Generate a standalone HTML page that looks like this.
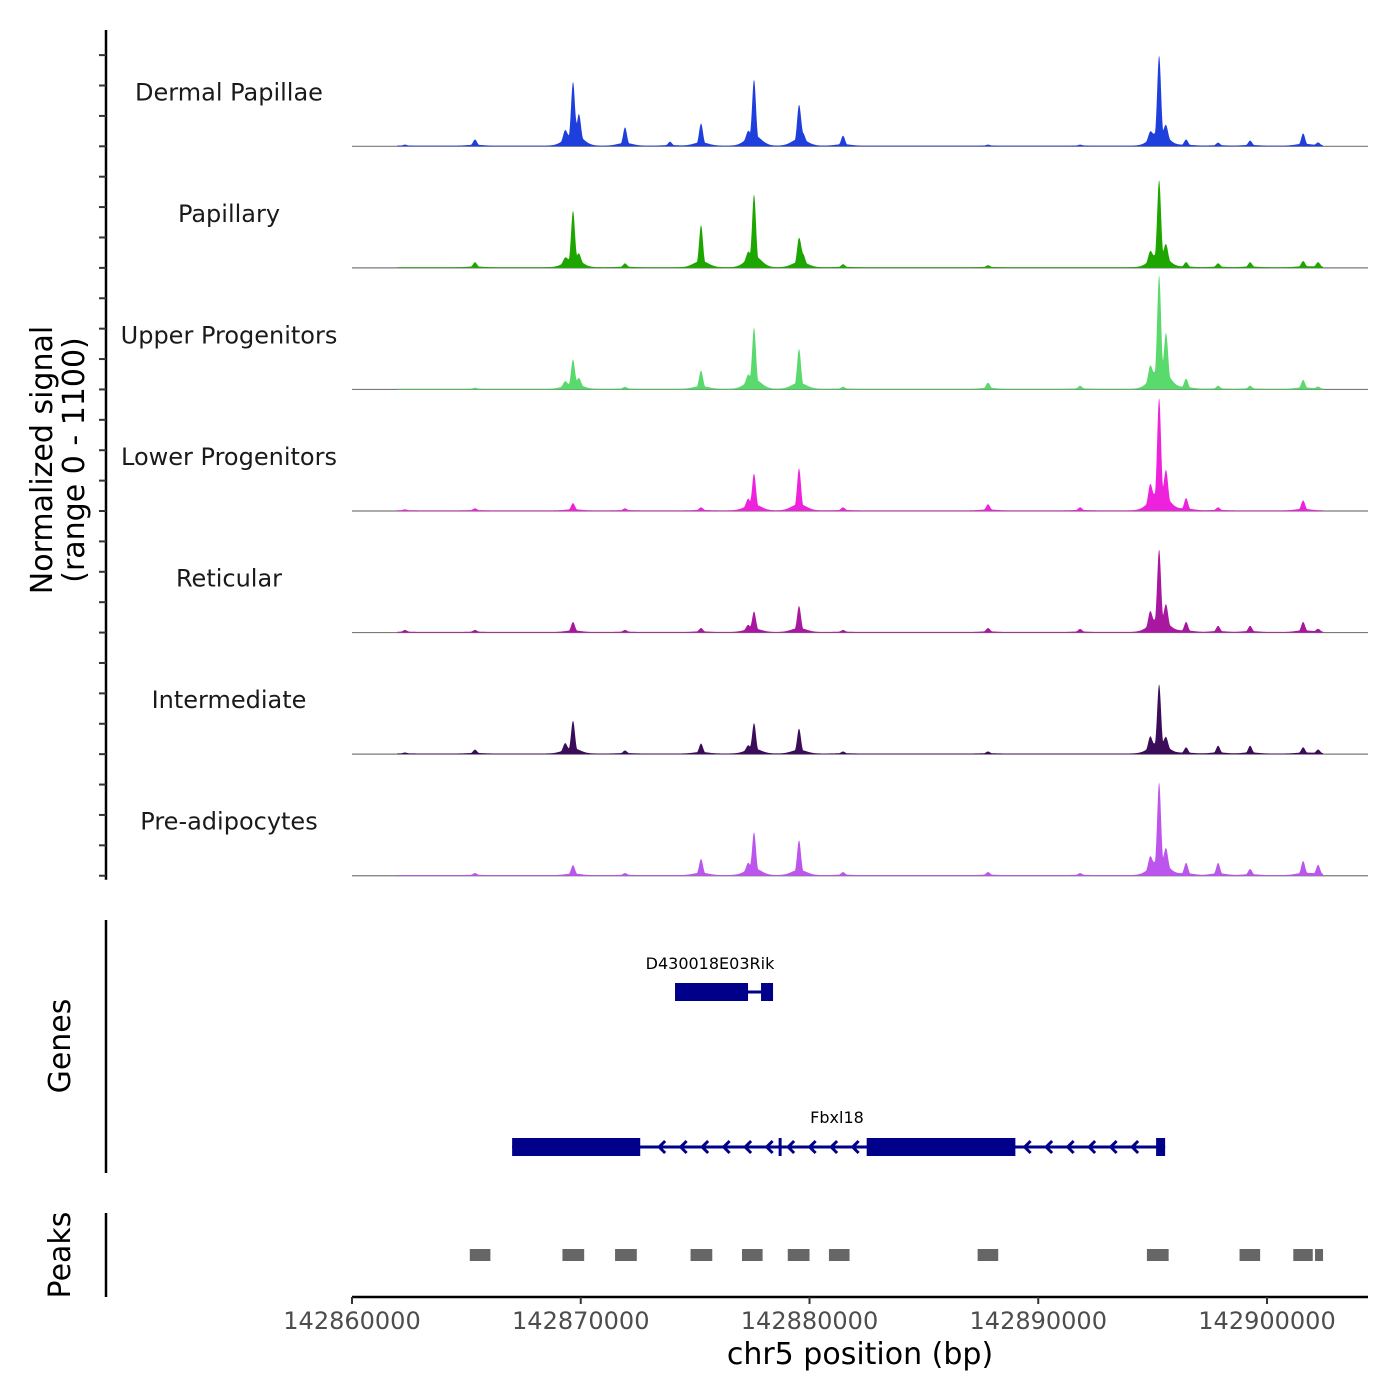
<!DOCTYPE html>
<html><head><meta charset="utf-8"><style>
html,body{margin:0;padding:0;background:#fff}
svg{display:block;font-family:"DejaVu Sans","Liberation Sans",sans-serif}
</style></head><body>
<svg id="chart" width="1400" height="1400" viewBox="0 0 1400 1400" xmlns="http://www.w3.org/2000/svg"></svg>
<script>
// ---- data ----
const xStart = 142860000;
const xTicks = [142860000, 142870000, 142880000, 142890000, 142900000];
const trackNames = ["Dermal Papillae","Papillary","Upper Progenitors","Lower Progenitors","Reticular","Intermediate","Pre-adipocytes"];
const trackColors = ["#1f3fdc","#1ea600","#5ad96c","#ee22dd","#a8179f","#3b0c5a","#bb55ee"];
const peakPos = [142862317,142865377,142869312,142869662,142869924,142871935,142873902,142875258,142877313,142877575,142879542,142879717,142881467,142887806,142891829,142894890,142895283,142895590,142896464,142897863,142899262,142901580,142902236];
const dermalVals       = [9,55,90,545,225,165,35,200,70,590,360,70,90,9,9,70,800,110,55,27,45,110,27];
const papillaryVals    = [0,45,45,500,70,35,0,380,70,650,255,90,27,18,0,90,770,135,45,35,45,55,45];
const upperVals        = [0,9,45,255,70,18,0,165,70,545,360,0,18,55,27,135,980,410,90,27,27,80,18];
const lowerVals        = [9,18,0,65,0,18,0,27,70,325,380,0,27,55,27,165,980,270,110,27,0,90,0];
const reticularVals    = [18,18,0,90,0,18,0,35,45,180,235,0,18,35,27,135,720,180,90,55,55,90,27];
const intermediateVals = [9,35,70,290,0,27,0,90,45,270,225,0,18,18,0,110,610,90,55,70,70,55,35];
const preadipVals      = [0,18,0,90,0,18,0,145,70,380,315,0,27,27,18,110,815,165,110,110,55,125,90];
const trackVals = [dermalVals,papillaryVals,upperVals,lowerVals,reticularVals,intermediateVals,preadipVals];
const signalStart = 142862000, signalEnd = 142902450;
const yMax = 1100;
const peakRegions = [[142865150,142866050],[142869200,142870150],[142871500,142872450],[142874800,142875750],[142877050,142877950],[142879050,142880000],[142880850,142881750],[142887350,142888250],[142894750,142895700],[142898800,142899700],[142901150,142902000],[142902100,142902450]];
const rikExons = [[142874121,142877313],[142877881,142878406]];
const rikSpan = [142874121,142878406];
const fbxExons = [[142867000,142872600],[142878650,142878750],[142882500,142889000],[142895152,142895546]];
const fbxSpan = [142867000,142895546];

// ---- layout ----
const svg = document.getElementById('chart');
const NS = 'http://www.w3.org/2000/svg';
const X0 = 352, X1 = 1267;
const xs = v => X0 + (v - xStart) / (xTicks[4] - xStart) * (X1 - X0);
const trackH = 121.57, firstBase = 146.3;
function mk(tag, attrs, parent){ const e=document.createElementNS(NS,tag); for(const k in attrs) e.setAttribute(k,attrs[k]); (parent||svg).appendChild(e); return e; }

trackNames.forEach((name,i)=>{
  const base = firstBase + i*trackH;
  const ys = v => base - v / yMax * trackH;
  const g = mk('g',{});
  
  
  mk('line',{x1:X0,x2:1368,y1:base,y2:base,stroke:'#7a7a7a','stroke-width':1.2},g);
  const vals = trackVals[i];
  let d = 'M' + xs(signalStart) + ',' + base;
  for(let px = Math.floor(xs(signalStart)); px <= xs(signalEnd); px+=0.5){
    const bp = xStart + (px - X0)/(X1-X0)*(xTicks[4]-xStart);
    let v = 6;
    for(let k=0;k<peakPos.length;k++){
      const dx = (bp - peakPos[k]);
      const a = vals[k]*Math.exp(-(dx*dx)/(2*85*85));
      const b = vals[k]*0.15*Math.exp(-(dx*dx)/(2*320*320));
      v += Math.max(a,b);
    }
    d += ' L' + px + ',' + ys(v).toFixed(2);
  }
  d += ' L' + xs(signalEnd) + ',' + base + ' Z';
  const p = mk('path',{d:d,fill:trackColors[i]},g);
  
  
  const t = mk('text',{x:229,y:base-46,'text-anchor':'middle','font-size':24,fill:'#1a1a1a'},g);
  t.textContent = name;
  
  
});

const yax = mk('g',{});


mk('line',{x1:106,x2:106,y1:30,y2:firstBase+6*trackH+4,stroke:'#000','stroke-width':2.5},yax);
for(let i=0;i<7;i++){ for(let k=0;k<4;k++){ const y=firstBase+i*trackH-k*trackH/4; mk('line',{x1:99,x2:106,y1:y,y2:y,stroke:'#333','stroke-width':2},yax);} }
const yt = mk('text',{transform:'translate(52,460) rotate(-90)','text-anchor':'middle','font-size':30,fill:'#000'},yax);


const ts1 = mk('tspan',{x:0,dy:0},yt); ts1.textContent='Normalized signal';
const ts2 = mk('tspan',{x:0,dy:32},yt); ts2.textContent='(range 0 - 1100)';

const gg = mk('g',{});


mk('line',{x1:106,x2:106,y1:920,y2:1173,stroke:'#000','stroke-width':2.5},gg);
const gt = mk('text',{transform:'translate(70,1046) rotate(-90)','text-anchor':'middle','font-size':30,fill:'#000'},gg);
gt.textContent='Genes';


function drawGene(span, exons, y, label, labelX, labelY){
  const g = mk('g',{},gg);
  
  
  mk('line',{x1:xs(span[0]),x2:xs(span[1]),y1:y,y2:y,stroke:'#00008b','stroke-width':3},g);
  for(let x=xs(span[0])+20; x<xs(span[1]); x+=21.5){
    let inside = exons.some(e=>x>=xs(e[0])-6 && x<=xs(e[1])+6);
    if(!inside) mk('path',{d:`M${x+4},${y-6} L${x-2},${y} L${x+4},${y+6}`,fill:'none',stroke:'#00008b','stroke-width':3},g);
  }
  exons.forEach(e=>{ mk('rect',{x:xs(e[0]),y:y-9,width:Math.max(3,xs(e[1])-xs(e[0])),height:18,fill:'#00008b'},g); });
  const t = mk('text',{x:labelX,y:labelY,'text-anchor':'middle','font-size':16,fill:'#000'},g);
  t.textContent = label;
}
drawGene(rikSpan, rikExons, 992, 'D430018E03Rik', 710, 969);
drawGene(fbxSpan, fbxExons, 1147, 'Fbxl18', 837, 1123);

const pg = mk('g',{});


mk('line',{x1:106,x2:106,y1:1213,y2:1297,stroke:'#000','stroke-width':2.5},pg);
const pt = mk('text',{transform:'translate(70,1255) rotate(-90)','text-anchor':'middle','font-size':30,fill:'#000'},pg);
pt.textContent='Peaks';


peakRegions.forEach(r=>{
  const rc = mk('rect',{x:xs(r[0]),y:1249,width:xs(r[1])-xs(r[0]),height:12,fill:'#666'},pg);
  
  
});

const xg = mk('g',{});


mk('line',{x1:X0,x2:1368,y1:1297,y2:1297,stroke:'#000','stroke-width':2.5},xg);
xTicks.forEach(v=>{
  mk('line',{x1:xs(v),x2:xs(v),y1:1297,y2:1304,stroke:'#333','stroke-width':2},xg);
  const t = mk('text',{x:xs(v),y:1329,'text-anchor':'middle','font-size':24,fill:'#4d4d4d'},xg);
  t.textContent = v;
  
  
});
const xt = mk('text',{x:860,y:1364,'text-anchor':'middle','font-size':30,fill:'#000'},xg);
xt.textContent='chr5 position (bp)';


</script>
</body></html>
